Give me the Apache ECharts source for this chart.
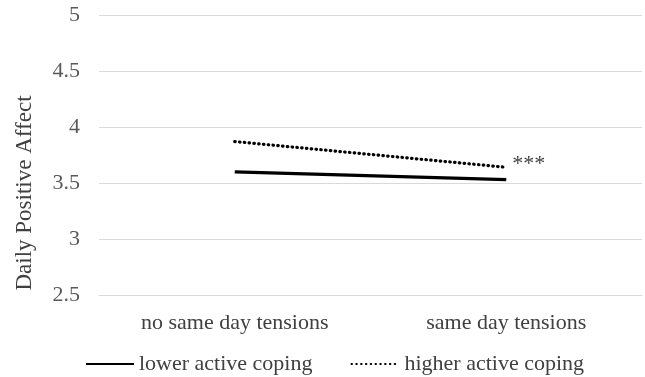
<!DOCTYPE html>
<html>
<head>
<meta charset="utf-8">
<script src="https://cdn.jsdelivr.net/npm/echarts@6/dist/echarts.min.js"></script>
<style>html,body{margin:0;padding:0;background:#fff}#c{width:645px;height:377px}</style>
</head>
<body>
<div id="c"></div>
<script>
const categories = ['no same day tensions', 'same day tensions'];
const lowerCoping = [3.60, 3.53];
const higherCoping = [3.87, 3.64];
const seriesNames = ['lower active coping', 'higher active coping'];
const yTicks = {min: 2.5, max: 5, step: 0.5};
const yTitle = 'Daily Positive Affect';
const sigLabel = '***';

const font = 'Liberation Serif';
const chart = echarts.init(document.getElementById('c'));
chart.setOption({
  animation: false,
  backgroundColor: '#fff',
  grid: {left: 99, right: 3, top: 15, bottom: 82},
  legend: {
    top: 348, left: 80,
    itemWidth: 48, itemHeight: 12, itemGap: 38,
    itemStyle: {opacity: 0},
    textStyle: {fontFamily: font, fontSize: 22, color: '#404040'},
    data: seriesNames
  },
  xAxis: {
    type: 'category', data: categories,
    axisLine: {lineStyle: {color: '#d9d9d9', width: 1}},
    axisTick: {show: false},
    axisLabel: {fontFamily: font, fontSize: 22, color: '#404040', margin: 17}
  },
  yAxis: {
    type: 'value', min: yTicks.min, max: yTicks.max, interval: yTicks.step,
    name: yTitle, nameLocation: 'middle', nameGap: 63,
    nameTextStyle: {fontFamily: font, fontSize: 23, color: '#404040', padding: [0, 76, 0, 0]},
    axisLine: {show: false}, axisTick: {show: false},
    axisLabel: {fontFamily: font, fontSize: 22, color: '#595959', margin: 19},
    splitLine: {lineStyle: {color: '#d9d9d9', width: 1}}
  },
  series: [
    {
      name: seriesNames[0], type: 'line', data: lowerCoping,
      symbol: 'none', color: '#000',
      lineStyle: {color: '#000', width: 3.2}
    },
    {
      name: seriesNames[1], type: 'line', data: higherCoping,
      symbol: 'none', color: '#000',
      lineStyle: {color: '#000', width: 3.2, type: [0.5, 4.3], cap: 'round'},
      endLabel: {show: true, formatter: sigLabel, fontFamily: font, fontSize: 22, color: '#404040', offset: [-2, -3]}
    }
  ]
});
</script>
</body>
</html>
